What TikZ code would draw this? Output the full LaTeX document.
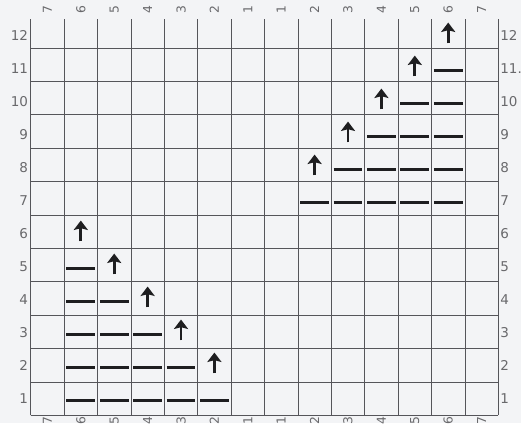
\documentclass[tikz,border=0pt]{standalone}
\usepackage{fontspec}
\setmainfont{DejaVu Sans}
\definecolor{paper}{RGB}{243, 244, 246}
\definecolor{rule}{RGB}{85, 85, 90}
\definecolor{ink}{RGB}{30, 30, 32}
\definecolor{numgray}{RGB}{105, 105, 108}
\usetikzlibrary{arrows.meta}

\begin{document}
\begin{tikzpicture}[x=1cm, y=0.988cm,
      gridline/.style = {draw=rule, line width=0.6pt},
      bar/.style      = {draw=ink, line width=2.5pt},
      up/.style       = {draw=ink, line width=2.5pt,
                         -{Stealth[length=8pt, width=12pt, inset=1.5pt]}},
      num/.style      = {font=\fontsize{11.5}{13}\selectfont, text=numgray,
                         inner sep=1pt},
      colnum/.style   = {font=\fontsize{10.5}{12}\selectfont, text=numgray,
                         inner sep=1pt, rotate=90},
    ]

    % --- Papier ---
    \fill[paper] (-0.92,-0.24) rectangle (14.68,12.585);
    \useasboundingbox (-0.92,-0.24) rectangle (14.68,12.585);

    % --- Raster 14 x 12 ---
    \draw[gridline] (0,0) grid (14,12);

    % --- Spaltennummern oben und unten ---
    \foreach \lab [count=\i from 0] in {7,6,5,4,3,2,1,1,2,3,4,5,6,7}{
      \node[colnum] (top-\i) at (\i+0.5, 12.3) {\lab};
      \node[colnum] (bot-\i) at (\i+0.5, -0.17) {\lab};
    }

    % --- Zeilennummern links und rechts ---
    \foreach \r in {1,...,12}{
      \node[num, anchor=east] (left-\r) at (-0.04, \r-0.5) {\r};
    }
    \foreach \r in {1,...,10,12}{
      \node[num, anchor=west] (right-\r) at (14.02, \r-0.5) {\r};
    }
    \node[num, anchor=west] (right-11) at (14.02, 10.5) {11.};

    % --- linke Treppe (Zeilen 1-6) ---
    \foreach \r in {1,...,5}{
      \pgfmathtruncatemacro{\last}{6-\r}
      \foreach \c in {1,...,\last}{
        \draw[bar] (\c+0.07, \r-0.55) -- (\c+0.93, \r-0.55);
      }
      \draw[up] (\last+0.5, \r+0.27) -- (\last+0.5, \r+0.9);
    }

    % --- rechte Treppe (Zeilen 7-12) ---
    \foreach \k in {1,...,5}{
      \pgfmathtruncatemacro{\first}{7+\k}
      \foreach \c in {\first,...,12}{
        \draw[bar] (\c+0.07, \k+6-0.55) -- (\c+0.93, \k+6-0.55);
      }
      \draw[up] (\first+0.5, \k+6+0.27) -- (\first+0.5, \k+6+0.9);
    }

  \end{tikzpicture}
\end{document}
